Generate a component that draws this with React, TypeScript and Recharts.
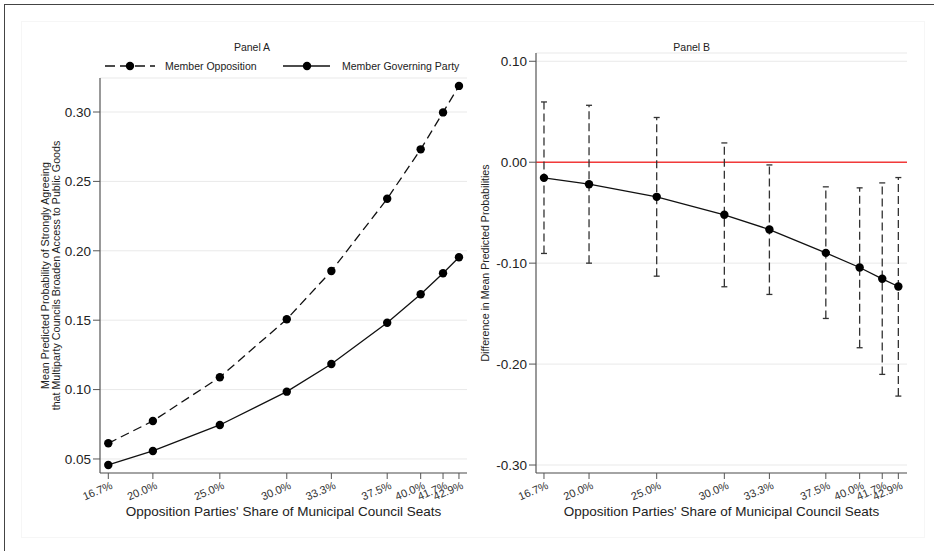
import React from 'react';
import {
  LineChart,
  Line,
  XAxis,
  YAxis,
  CartesianGrid,
  ReferenceLine,
  ErrorBar,
  Legend,
} from 'recharts';

// ---------- data ----------
const shares = [16.67, 20, 25, 30, 33.33, 37.5, 40, 41.67, 42.86];
const shareLabels = ['16.7%', '20.0%', '25.0%', '30.0%', '33.3%', '37.5%', '40.0%', '41.7%', '42.9%'];

const memberOpposition = [0.0613, 0.0774, 0.1089, 0.1507, 0.1854, 0.2375, 0.2731, 0.2997, 0.3188];
const memberGoverning = [0.0457, 0.0558, 0.0745, 0.0985, 0.1184, 0.1482, 0.1687, 0.1838, 0.1953];

const meanDifference = [-0.0155, -0.0218, -0.0343, -0.0521, -0.0667, -0.0898, -0.1043, -0.1155, -0.1231];
const ciLower = [-0.0904, -0.1, -0.1129, -0.1234, -0.131, -0.1548, -0.1838, -0.2102, -0.2317];
const ciUpper = [0.0597, 0.0564, 0.0443, 0.0191, -0.0027, -0.0244, -0.0254, -0.0205, -0.0152];

const panelATicks = [0.05, 0.1, 0.15, 0.2, 0.25, 0.3];
const panelBTicks = [0.1, 0, -0.1, -0.2, -0.3];

const panelATitle = 'Panel A';
const panelBTitle = 'Panel B';
const seriesNames = ['Member Opposition', 'Member Governing Party'];
const xTitle = "Opposition Parties' Share of Municipal Council Seats";
const yTitleA = [
  'Mean Predicted Probability of Strongly Agreeing',
  'that Multiparty Councils Broaden Access to Public Goods',
];
const yTitleB = 'Difference in Mean Predicted Probabilities';

const panelAData = shares.map((s, i) => ({
  share: s,
  opposition: memberOpposition[i],
  governing: memberGoverning[i],
}));

const panelBData = shares.map((s, i) => ({
  share: s,
  diff: meanDifference[i],
  ci: [meanDifference[i] - ciLower[i], ciUpper[i] - meanDifference[i]],
}));

// ---------- style ----------
const FONT = '"Liberation Sans", Arial, Helvetica, sans-serif';
const AXIS = '#555';
const TEXT = '#222';

const XTick = (props: any) => {
  const { x, y, payload } = props;
  const idx = shares.indexOf(payload.value);
  const label = idx >= 0 ? shareLabels[idx] : '';
  const ax = x + 2;
  const ay = y + 1;
  return (
    <text
      x={ax}
      y={ay}
      dy="0.72em"
      transform={`rotate(-23, ${ax}, ${ay})`}
      textAnchor="end"
      fontSize={11}
      fontFamily={FONT}
      fill="#333"
    >
      {label}
    </text>
  );
};

const XTitle = (props: any) => {
  const vb = props.viewBox || { x: 0, y: 0, width: 0, height: 0 };
  return (
    <text
      x={vb.x + vb.width / 2}
      y={516}
      textAnchor="middle"
      fontSize={13.5}
      fontFamily={FONT}
      fill={TEXT}
    >
      {xTitle}
    </text>
  );
};

const YTitleA = (props: any) => {
  const vb = props.viewBox || { x: 0, y: 0, width: 0, height: 0 };
  const cy = vb.y + vb.height / 2;
  return (
    <g>
      <text
        x={49}
        y={cy}
        transform={`rotate(-90, 49, ${cy})`}
        textAnchor="middle"
        fontSize={10.7}
        fontFamily={FONT}
        fill={TEXT}
      >
        {yTitleA[0]}
      </text>
      <text
        x={59.5}
        y={cy}
        transform={`rotate(-90, 59.5, ${cy})`}
        textAnchor="middle"
        fontSize={10.7}
        fontFamily={FONT}
        fill={TEXT}
      >
        {yTitleA[1]}
      </text>
    </g>
  );
};

const YTitleB = (props: any) => {
  const vb = props.viewBox || { x: 0, y: 0, width: 0, height: 0 };
  const cy = vb.y + vb.height / 2;
  return (
    <text
      x={19}
      y={cy}
      transform={`rotate(-90, 19, ${cy})`}
      textAnchor="middle"
      fontSize={10.6}
      fontFamily={FONT}
      fill={TEXT}
    >
      {yTitleB}
    </text>
  );
};

const LegendA = () => (
  <svg width={370} height={20} style={{ display: 'block', overflow: 'visible' }}>
    <line x1={5} y1={10} x2={55} y2={10} stroke="#111" strokeWidth={1.3} strokeDasharray="10 5" />
    <circle cx={30} cy={10} r={4.2} fill="#000" />
    <text x={65} y={13.6} fontSize={10.5} fontFamily={FONT} fill={TEXT}>
      {seriesNames[0]}
    </text>
    <line x1={183} y1={10} x2={230} y2={10} stroke="#111" strokeWidth={1.3} />
    <circle cx={207} cy={10} r={4.2} fill="#000" />
    <text x={242} y={13.6} fontSize={10.5} fontFamily={FONT} fill={TEXT}>
      {seriesNames[1]}
    </text>
  </svg>
);

const dotStyle = { r: 4.2, fill: '#000', stroke: 'none', strokeDasharray: 'none' };

export default function App() {
  return (
    <div
      style={{
        position: 'absolute',
        left: 0,
        top: 0,
        width: 934,
        height: 551,
        overflow: 'hidden',
        background: '#fff',
        fontFamily: FONT,
      }}
    >
      {/* outer frame */}
      <div
        style={{
          position: 'absolute',
          left: 4,
          top: 4,
          width: 1000,
          height: 700,
          borderTop: '1.5px solid #444',
          borderLeft: '1.5px solid #444',
        }}
      />
      {/* faint inner frame */}
      <div
        style={{
          position: 'absolute',
          left: 21,
          top: 21,
          width: 902,
          height: 515,
          border: '1px solid #f6f6f6',
        }}
      />

      {/* Panel A */}
      <div style={{ position: 'absolute', left: 0, top: 0 }}>
        <LineChart
          width={480}
          height={551}
          data={panelAData}
          margin={{ top: 78, right: 13, bottom: 0, left: 0 }}
        >
          <CartesianGrid vertical={false} stroke="#e9e9e9" strokeWidth={1} />
          <XAxis
            dataKey="share"
            type="number"
            domain={[16.05, 43.46]}
            ticks={shares}
            allowDataOverflow
            height={78}
            tickSize={6}
            tickMargin={1}
            interval={0}
            axisLine={{ stroke: AXIS, strokeWidth: 1.2 }}
            tickLine={{ stroke: AXIS }}
            tick={<XTick />}
            label={<XTitle />}
          />
          <YAxis
            type="number"
            domain={[0.0399, 0.3245]}
            ticks={panelATicks}
            allowDataOverflow
            width={100}
            tickSize={7}
            tickMargin={2}
            interval={0}
            tickFormatter={(v: number) => v.toFixed(2)}
            axisLine={{ stroke: AXIS, strokeWidth: 1.2 }}
            tickLine={{ stroke: AXIS }}
            tick={{ fontSize: 13.5, fill: TEXT, fontFamily: FONT }}
            label={<YTitleA />}
          />
          <Legend
            verticalAlign="middle"
            align="center"
            layout="horizontal"
            wrapperStyle={{ position: 'absolute', left: 100, top: 56, width: 370, height: 20 }}
            content={<LegendA />}
          />
          <Line
            type="linear"
            dataKey="opposition"
            name={seriesNames[0]}
            stroke="#111"
            strokeWidth={1.3}
            strokeDasharray="9 5"
            dot={dotStyle}
            activeDot={false}
            isAnimationActive={false}
          />
          <Line
            type="linear"
            dataKey="governing"
            name={seriesNames[1]}
            stroke="#111"
            strokeWidth={1.3}
            dot={dotStyle}
            activeDot={false}
            isAnimationActive={false}
          />
          <text x={252} y={51} textAnchor="middle" fontSize={10.5} fontFamily={FONT} fill={TEXT}>
            {panelATitle}
          </text>
        </LineChart>
      </div>

      {/* Panel B */}
      <div style={{ position: 'absolute', left: 470, top: 0 }}>
        <LineChart
          width={464}
          height={551}
          data={panelBData}
          margin={{ top: 53, right: 27, bottom: 0, left: 0 }}
        >
          <CartesianGrid vertical={false} stroke="#e9e9e9" strokeWidth={1} />
          <XAxis
            dataKey="share"
            type="number"
            domain={[16.08, 43.5]}
            ticks={shares}
            allowDataOverflow
            height={78}
            tickSize={6}
            tickMargin={1}
            interval={0}
            axisLine={{ stroke: AXIS, strokeWidth: 1.2 }}
            tickLine={{ stroke: AXIS }}
            tick={<XTick />}
            label={<XTitle />}
          />
          <YAxis
            type="number"
            domain={[-0.3079, 0.1082]}
            ticks={panelBTicks}
            allowDataOverflow
            width={66}
            tickSize={7}
            tickMargin={2}
            interval={0}
            tickFormatter={(v: number) => v.toFixed(2)}
            axisLine={{ stroke: AXIS, strokeWidth: 1.2 }}
            tickLine={{ stroke: AXIS }}
            tick={{ fontSize: 13.5, fill: TEXT, fontFamily: FONT }}
            label={<YTitleB />}
          />
          <ReferenceLine y={0} stroke="#f23a3a" strokeWidth={1.5} />
          <Line
            type="linear"
            dataKey="diff"
            stroke="#111"
            strokeWidth={1.3}
            dot={dotStyle}
            activeDot={false}
            isAnimationActive={false}
          >
            <ErrorBar
              dataKey="ci"
              direction="y"
              width={3}
              stroke="#333"
              strokeWidth={1.3}
              strokeDasharray="8 4"
              isAnimationActive={false}
            />
          </Line>
          <text x={221.7} y={51} textAnchor="middle" fontSize={10.5} fontFamily={FONT} fill={TEXT}>
            {panelBTitle}
          </text>
        </LineChart>
      </div>
    </div>
  );
}
